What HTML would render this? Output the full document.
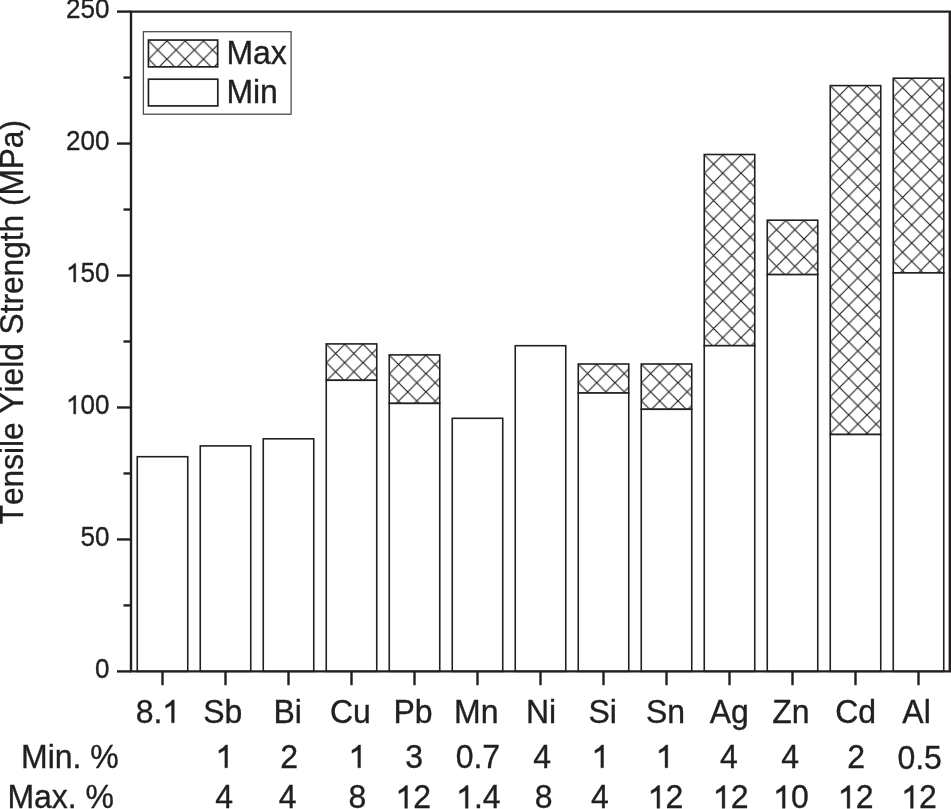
<!DOCTYPE html>
<html><head><meta charset="utf-8"><style>
html,body{margin:0;padding:0;background:#fff;overflow:hidden;}
svg{display:block;will-change:transform;}
text{font-family:"Liberation Sans",sans-serif;fill:#231f20;font-kerning:none;stroke:#231f20;stroke-width:0.35px;}
.g1{fill:#231f20;stroke:#231f20;stroke-width:0.011;}
</style></head><body>
<svg width="951" height="809" viewBox="0 0 951 809">
<defs>
<pattern id="h1" patternUnits="userSpaceOnUse" x="326.45" y="344.35" width="18.27" height="18.27"><path d="M-2,-2 L20.27,20.27 M20.27,-2 L-2,20.27" stroke="#231f20" stroke-width="1.15" fill="none"/></pattern>
<pattern id="h2" patternUnits="userSpaceOnUse" x="389.45" y="355.35" width="18.27" height="18.27"><path d="M-2,-2 L20.27,20.27 M20.27,-2 L-2,20.27" stroke="#231f20" stroke-width="1.15" fill="none"/></pattern>
<pattern id="h3" patternUnits="userSpaceOnUse" x="578.45" y="364.45" width="18.27" height="18.27"><path d="M-2,-2 L20.27,20.27 M20.27,-2 L-2,20.27" stroke="#231f20" stroke-width="1.15" fill="none"/></pattern>
<pattern id="h4" patternUnits="userSpaceOnUse" x="641.45" y="364.45" width="18.27" height="18.27"><path d="M-2,-2 L20.27,20.27 M20.27,-2 L-2,20.27" stroke="#231f20" stroke-width="1.15" fill="none"/></pattern>
<pattern id="h5" patternUnits="userSpaceOnUse" x="704.45" y="154.95" width="18.27" height="18.27"><path d="M-2,-2 L20.27,20.27 M20.27,-2 L-2,20.27" stroke="#231f20" stroke-width="1.15" fill="none"/></pattern>
<pattern id="h6" patternUnits="userSpaceOnUse" x="767.45" y="220.65" width="18.27" height="18.27"><path d="M-2,-2 L20.27,20.27 M20.27,-2 L-2,20.27" stroke="#231f20" stroke-width="1.15" fill="none"/></pattern>
<pattern id="h7" patternUnits="userSpaceOnUse" x="830.45" y="86.05" width="18.27" height="18.27"><path d="M-2,-2 L20.27,20.27 M20.27,-2 L-2,20.27" stroke="#231f20" stroke-width="1.15" fill="none"/></pattern>
<pattern id="h8" patternUnits="userSpaceOnUse" x="893.45" y="78.65" width="18.27" height="18.27"><path d="M-2,-2 L20.27,20.27 M20.27,-2 L-2,20.27" stroke="#231f20" stroke-width="1.15" fill="none"/></pattern>
<pattern id="h9" patternUnits="userSpaceOnUse" x="148.65" y="40.90" width="18.27" height="18.27"><path d="M-2,-2 L20.27,20.27 M20.27,-2 L-2,20.27" stroke="#231f20" stroke-width="1.15" fill="none"/></pattern>
</defs>
<rect width="951" height="809" fill="#fff"/>
<rect x="137.25" y="456.70" width="50.5" height="214.70" fill="#fff" stroke="#231f20" stroke-width="1.6"/>
<rect x="200.25" y="445.90" width="50.5" height="225.50" fill="#fff" stroke="#231f20" stroke-width="1.6"/>
<rect x="263.25" y="438.80" width="50.5" height="232.60" fill="#fff" stroke="#231f20" stroke-width="1.6"/>
<rect x="326.25" y="343.90" width="50.5" height="36.40" fill="url(#h1)" stroke="#231f20" stroke-width="1.6"/>
<rect x="326.25" y="380.30" width="50.5" height="291.10" fill="#fff" stroke="#231f20" stroke-width="1.6"/>
<rect x="389.25" y="354.90" width="50.5" height="48.50" fill="url(#h2)" stroke="#231f20" stroke-width="1.6"/>
<rect x="389.25" y="403.40" width="50.5" height="268.00" fill="#fff" stroke="#231f20" stroke-width="1.6"/>
<rect x="452.25" y="418.30" width="50.5" height="253.10" fill="#fff" stroke="#231f20" stroke-width="1.6"/>
<rect x="515.25" y="345.70" width="50.5" height="325.70" fill="#fff" stroke="#231f20" stroke-width="1.6"/>
<rect x="578.25" y="364.00" width="50.5" height="29.00" fill="url(#h3)" stroke="#231f20" stroke-width="1.6"/>
<rect x="578.25" y="393.00" width="50.5" height="278.40" fill="#fff" stroke="#231f20" stroke-width="1.6"/>
<rect x="641.25" y="364.00" width="50.5" height="45.30" fill="url(#h4)" stroke="#231f20" stroke-width="1.6"/>
<rect x="641.25" y="409.30" width="50.5" height="262.10" fill="#fff" stroke="#231f20" stroke-width="1.6"/>
<rect x="704.25" y="154.50" width="50.5" height="191.20" fill="url(#h5)" stroke="#231f20" stroke-width="1.6"/>
<rect x="704.25" y="345.70" width="50.5" height="325.70" fill="#fff" stroke="#231f20" stroke-width="1.6"/>
<rect x="767.25" y="220.20" width="50.5" height="54.40" fill="url(#h6)" stroke="#231f20" stroke-width="1.6"/>
<rect x="767.25" y="274.60" width="50.5" height="396.80" fill="#fff" stroke="#231f20" stroke-width="1.6"/>
<rect x="830.25" y="85.60" width="50.5" height="348.90" fill="url(#h7)" stroke="#231f20" stroke-width="1.6"/>
<rect x="830.25" y="434.50" width="50.5" height="236.90" fill="#fff" stroke="#231f20" stroke-width="1.6"/>
<rect x="893.25" y="78.20" width="50.5" height="194.70" fill="url(#h8)" stroke="#231f20" stroke-width="1.6"/>
<rect x="893.25" y="272.90" width="50.5" height="398.50" fill="#fff" stroke="#231f20" stroke-width="1.6"/>
<path d="M131.0,671.4 V11.6 H949.8 V671.4 Z" fill="none" stroke="#231f20" stroke-width="2.4"/>
<line x1="117.00" y1="671.40" x2="131.0" y2="671.40" stroke="#231f20" stroke-width="2.4" stroke-linecap="butt"/>
<line x1="123.50" y1="605.42" x2="131.0" y2="605.42" stroke="#231f20" stroke-width="2.4" stroke-linecap="butt"/>
<line x1="117.00" y1="539.44" x2="131.0" y2="539.44" stroke="#231f20" stroke-width="2.4" stroke-linecap="butt"/>
<line x1="123.50" y1="473.46" x2="131.0" y2="473.46" stroke="#231f20" stroke-width="2.4" stroke-linecap="butt"/>
<line x1="117.00" y1="407.48" x2="131.0" y2="407.48" stroke="#231f20" stroke-width="2.4" stroke-linecap="butt"/>
<line x1="123.50" y1="341.50" x2="131.0" y2="341.50" stroke="#231f20" stroke-width="2.4" stroke-linecap="butt"/>
<line x1="117.00" y1="275.52" x2="131.0" y2="275.52" stroke="#231f20" stroke-width="2.4" stroke-linecap="butt"/>
<line x1="123.50" y1="209.54" x2="131.0" y2="209.54" stroke="#231f20" stroke-width="2.4" stroke-linecap="butt"/>
<line x1="117.00" y1="143.56" x2="131.0" y2="143.56" stroke="#231f20" stroke-width="2.4" stroke-linecap="butt"/>
<line x1="123.50" y1="77.58" x2="131.0" y2="77.58" stroke="#231f20" stroke-width="2.4" stroke-linecap="butt"/>
<line x1="117.00" y1="11.60" x2="131.0" y2="11.60" stroke="#231f20" stroke-width="2.4" stroke-linecap="butt"/>
<line x1="162.50" y1="671.4" x2="162.50" y2="685.2" stroke="#231f20" stroke-width="2.4"/>
<line x1="225.50" y1="671.4" x2="225.50" y2="685.2" stroke="#231f20" stroke-width="2.4"/>
<line x1="288.50" y1="671.4" x2="288.50" y2="685.2" stroke="#231f20" stroke-width="2.4"/>
<line x1="351.50" y1="671.4" x2="351.50" y2="685.2" stroke="#231f20" stroke-width="2.4"/>
<line x1="414.50" y1="671.4" x2="414.50" y2="685.2" stroke="#231f20" stroke-width="2.4"/>
<line x1="477.50" y1="671.4" x2="477.50" y2="685.2" stroke="#231f20" stroke-width="2.4"/>
<line x1="540.50" y1="671.4" x2="540.50" y2="685.2" stroke="#231f20" stroke-width="2.4"/>
<line x1="603.50" y1="671.4" x2="603.50" y2="685.2" stroke="#231f20" stroke-width="2.4"/>
<line x1="666.50" y1="671.4" x2="666.50" y2="685.2" stroke="#231f20" stroke-width="2.4"/>
<line x1="729.50" y1="671.4" x2="729.50" y2="685.2" stroke="#231f20" stroke-width="2.4"/>
<line x1="792.50" y1="671.4" x2="792.50" y2="685.2" stroke="#231f20" stroke-width="2.4"/>
<line x1="855.50" y1="671.4" x2="855.50" y2="685.2" stroke="#231f20" stroke-width="2.4"/>
<line x1="918.50" y1="671.4" x2="918.50" y2="685.2" stroke="#231f20" stroke-width="2.4"/>
<text x="0" y="0" text-anchor="start" font-size="26" transform="translate(95.04,678.00) scale(1,1.04)">0</text>
<text x="0" y="0" text-anchor="start" font-size="26" transform="translate(80.58,546.04) scale(1,1.04)">50</text>
<path class="g1" d="M0.373 0L0.373-0.716L0.312-0.716Q0.25-0.622 0.103-0.548L0.103-0.457Q0.215-0.505 0.2875-0.556L0.2875 0Z" transform="translate(66.12,414.08) scale(26)"/><text x="0" y="0" text-anchor="start" font-size="26" transform="translate(80.58,414.08) scale(1,1.04)">00</text>
<path class="g1" d="M0.373 0L0.373-0.716L0.312-0.716Q0.25-0.622 0.103-0.548L0.103-0.457Q0.215-0.505 0.2875-0.556L0.2875 0Z" transform="translate(66.12,282.12) scale(26)"/><text x="0" y="0" text-anchor="start" font-size="26" transform="translate(80.58,282.12) scale(1,1.04)">50</text>
<text x="0" y="0" text-anchor="start" font-size="26" transform="translate(66.12,150.16) scale(1,1.04)">200</text>
<text x="0" y="0" text-anchor="start" font-size="26" transform="translate(66.12,18.20) scale(1,1.04)">250</text>
<rect x="143.4" y="31.7" width="147.70" height="82.50" fill="#fff" stroke="#4d4d4d" stroke-width="1.3"/>
<rect x="148.45" y="40.05" width="69.20" height="26.80" fill="url(#h9)" stroke="#231f20" stroke-width="1.7"/>
<rect x="148.45" y="79.2" width="69.35" height="26.70" fill="#fff" stroke="#231f20" stroke-width="1.7"/>
<text x="0" y="0" text-anchor="start" font-size="32" transform="translate(226.38,64.40) scale(1,1.04)">Max</text>
<text x="0" y="0" text-anchor="start" font-size="32" transform="translate(226.38,103.10) scale(1,1.04)">Min</text>
<text x="0" y="0" font-size="31.65" transform="translate(22.9,524.3) rotate(-90) scale(1,1.04)">Tensile Yield Strength (MPa)</text>
<text x="0" y="0" text-anchor="start" font-size="32" transform="translate(135.64,722.80) scale(1,1.04)">8.</text><path class="g1" d="M0.373 0L0.373-0.716L0.312-0.716Q0.25-0.622 0.103-0.548L0.103-0.457Q0.215-0.505 0.2875-0.556L0.2875 0Z" transform="translate(162.33,722.80) scale(32)"/>
<text x="0" y="0" text-anchor="start" font-size="32" transform="translate(203.27,722.80) scale(1,1.04)">Sb</text>
<text x="0" y="0" text-anchor="start" font-size="32" transform="translate(273.44,722.80) scale(1,1.04)">Bi</text>
<text x="0" y="0" text-anchor="start" font-size="32" transform="translate(329.95,722.80) scale(1,1.04)">Cu</text>
<text x="0" y="0" text-anchor="start" font-size="32" transform="translate(393.39,722.80) scale(1,1.04)">Pb</text>
<text x="0" y="0" text-anchor="start" font-size="32" transform="translate(454.00,722.80) scale(1,1.04)">Mn</text>
<text x="0" y="0" text-anchor="start" font-size="32" transform="translate(525.91,722.80) scale(1,1.04)">Ni</text>
<text x="0" y="0" text-anchor="start" font-size="32" transform="translate(588.48,722.80) scale(1,1.04)">Si</text>
<text x="0" y="0" text-anchor="start" font-size="32" transform="translate(646.04,722.80) scale(1,1.04)">Sn</text>
<text x="0" y="0" text-anchor="start" font-size="32" transform="translate(709.78,722.80) scale(1,1.04)">Ag</text>
<text x="0" y="0" text-anchor="start" font-size="32" transform="translate(772.26,722.80) scale(1,1.04)">Zn</text>
<text x="0" y="0" text-anchor="start" font-size="32" transform="translate(835.22,722.80) scale(1,1.04)">Cd</text>
<text x="0" y="0" text-anchor="start" font-size="32" transform="translate(902.31,722.80) scale(1,1.04)">Al</text>
<text x="0" y="0" text-anchor="start" font-size="32" transform="translate(21.06,767.80) scale(1,1.04)">Min. %</text>
<path class="g1" d="M0.373 0L0.373-0.716L0.312-0.716Q0.25-0.622 0.103-0.548L0.103-0.457Q0.215-0.505 0.2875-0.556L0.2875 0Z" transform="translate(215.64,767.80) scale(32)"/>
<text x="0" y="0" text-anchor="start" font-size="32" transform="translate(280.20,767.80) scale(1,1.04)">2</text>
<path class="g1" d="M0.373 0L0.373-0.716L0.312-0.716Q0.25-0.622 0.103-0.548L0.103-0.457Q0.215-0.505 0.2875-0.556L0.2875 0Z" transform="translate(348.64,767.80) scale(32)"/>
<text x="0" y="0" text-anchor="start" font-size="32" transform="translate(405.30,767.80) scale(1,1.04)">3</text>
<text x="0" y="0" text-anchor="start" font-size="32" transform="translate(455.69,767.80) scale(1,1.04)">0.7</text>
<text x="0" y="0" text-anchor="start" font-size="32" transform="translate(533.30,767.80) scale(1,1.04)">4</text>
<path class="g1" d="M0.373 0L0.373-0.716L0.312-0.716Q0.25-0.622 0.103-0.548L0.103-0.457Q0.215-0.505 0.2875-0.556L0.2875 0Z" transform="translate(591.64,767.80) scale(32)"/>
<path class="g1" d="M0.373 0L0.373-0.716L0.312-0.716Q0.25-0.622 0.103-0.548L0.103-0.457Q0.215-0.505 0.2875-0.556L0.2875 0Z" transform="translate(655.84,767.80) scale(32)"/>
<text x="0" y="0" text-anchor="start" font-size="32" transform="translate(720.00,767.80) scale(1,1.04)">4</text>
<text x="0" y="0" text-anchor="start" font-size="32" transform="translate(781.20,767.80) scale(1,1.04)">4</text>
<text x="0" y="0" text-anchor="start" font-size="32" transform="translate(847.35,767.80) scale(1,1.04)">2</text>
<text x="0" y="0" text-anchor="start" font-size="32" transform="translate(897.40,768.80) scale(1,1.04)">0.5</text>
<text x="0" y="0" text-anchor="start" font-size="32" transform="translate(7.41,808.30) scale(1,1.04)">Max. %</text>
<text x="0" y="0" text-anchor="start" font-size="32" transform="translate(215.30,808.30) scale(1,1.04)">4</text>
<text x="0" y="0" text-anchor="start" font-size="32" transform="translate(278.80,808.30) scale(1,1.04)">4</text>
<text x="0" y="0" text-anchor="start" font-size="32" transform="translate(348.40,808.30) scale(1,1.04)">8</text>
<path class="g1" d="M0.373 0L0.373-0.716L0.312-0.716Q0.25-0.622 0.103-0.548L0.103-0.457Q0.215-0.505 0.2875-0.556L0.2875 0Z" transform="translate(395.56,808.30) scale(32)"/><text x="0" y="0" text-anchor="start" font-size="32" transform="translate(413.36,808.30) scale(1,1.04)">2</text>
<path class="g1" d="M0.373 0L0.373-0.716L0.312-0.716Q0.25-0.622 0.103-0.548L0.103-0.457Q0.215-0.505 0.2875-0.556L0.2875 0Z" transform="translate(456.18,808.30) scale(32)"/><text x="0" y="0" text-anchor="start" font-size="32" transform="translate(473.98,808.30) scale(1,1.04)">.4</text>
<text x="0" y="0" text-anchor="start" font-size="32" transform="translate(534.75,808.30) scale(1,1.04)">8</text>
<text x="0" y="0" text-anchor="start" font-size="32" transform="translate(591.10,808.30) scale(1,1.04)">4</text>
<path class="g1" d="M0.373 0L0.373-0.716L0.312-0.716Q0.25-0.622 0.103-0.548L0.103-0.457Q0.215-0.505 0.2875-0.556L0.2875 0Z" transform="translate(647.76,808.30) scale(32)"/><text x="0" y="0" text-anchor="start" font-size="32" transform="translate(665.56,808.30) scale(1,1.04)">2</text>
<path class="g1" d="M0.373 0L0.373-0.716L0.312-0.716Q0.25-0.622 0.103-0.548L0.103-0.457Q0.215-0.505 0.2875-0.556L0.2875 0Z" transform="translate(712.91,808.30) scale(32)"/><text x="0" y="0" text-anchor="start" font-size="32" transform="translate(730.71,808.30) scale(1,1.04)">2</text>
<path class="g1" d="M0.373 0L0.373-0.716L0.312-0.716Q0.25-0.622 0.103-0.548L0.103-0.457Q0.215-0.505 0.2875-0.556L0.2875 0Z" transform="translate(773.18,808.30) scale(32)"/><text x="0" y="0" text-anchor="start" font-size="32" transform="translate(790.98,808.30) scale(1,1.04)">0</text>
<path class="g1" d="M0.373 0L0.373-0.716L0.312-0.716Q0.25-0.622 0.103-0.548L0.103-0.457Q0.215-0.505 0.2875-0.556L0.2875 0Z" transform="translate(837.91,808.30) scale(32)"/><text x="0" y="0" text-anchor="start" font-size="32" transform="translate(855.71,808.30) scale(1,1.04)">2</text>
<path class="g1" d="M0.373 0L0.373-0.716L0.312-0.716Q0.25-0.622 0.103-0.548L0.103-0.457Q0.215-0.505 0.2875-0.556L0.2875 0Z" transform="translate(901.31,808.30) scale(32)"/><text x="0" y="0" text-anchor="start" font-size="32" transform="translate(919.11,808.30) scale(1,1.04)">2</text>
</svg>
</body></html>
